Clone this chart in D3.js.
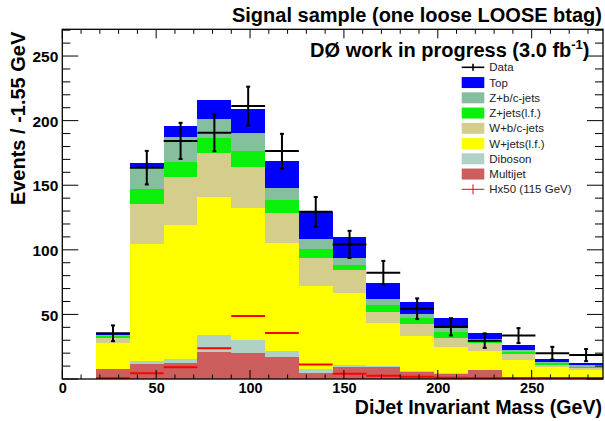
<!DOCTYPE html>
<html>
<head>
<meta charset="utf-8">
<script src="https://cdn.jsdelivr.net/npm/d3@7"></script>
<style>
  html, body { margin: 0; padding: 0; background: #fff; }
  svg { display: block; font-family: "Liberation Sans", Arial, Helvetica, sans-serif; }
</style>
</head>
<body>
<div id="chart"></div>
<script>
// Bins of 18 GeV, lower edges
const binLow = [0, 18, 36, 54, 72, 90, 108, 126, 144, 162, 180, 198, 216, 234, 252, 270];
const binWidth = 18;

// Backgrounds, per bin (stacked bottom -> top)
const multijet = [0, 7.7, 11.6, 12.1, 21.0, 20.2, 16.8, 5.0, 9.5, 9.0, 5.7, 3.9, 7.0, 0.3, 0.3, 0.3];
const diboson  = [0, 0.3, 2.2, 3.1, 13.0, 10.3, 4.9, 3.0, 1.3, 1.0, 0.7, 0.5, 0.2, 0.2, 0.2, 0.2];
const wjetsLF  = [0, 19.5, 90.7, 103.9, 106.6, 101.9, 83.3, 64.0, 56.0, 33.3, 26.6, 20.2, 14.6, 14.2, 9.0, 6.5];
const wbcJets  = [0, 4.3, 31.3, 37.3, 34.4, 31.9, 23.7, 22.0, 17.6, 8.8, 9.6, 7.5, 5.8, 4.3, 1.5, 1.3];
const zjetsLF  = [0, 1.5, 11.6, 11.4, 11.7, 12.1, 9.8, 7.0, 3.8, 5.5, 4.4, 4.6, 1.6, 2.0, 1.3, 1.2];
const zbcJets  = [0, 0.9, 16.6, 19.2, 14.6, 14.2, 9.2, 7.7, 5.7, 4.1, 3.3, 3.1, 1.5, 1.4, 1.0, 1.1];
const topQuark = [0, 1.4, 3.0, 8.7, 14.5, 18.2, 20.8, 20.3, 16.2, 12.9, 9.5, 7.4, 4.7, 3.8, 2.1, 2.1];

// Data with errors, and signal (x50)
const dataVals = [null, 35.4, 163.6, 184.3, 190.6, 211.3, 176.4, 129.4, 104.2, 82.2, 54.4, 40.4, 29.7, 33.6, 20.0, 18.5];
const dataErrs = [null, 6.1, 13.0, 14.0, 14.3, 15.0, 13.4, 11.5, 10.5, 9.2, 8.0, 6.7, 5.6, 5.8, 4.9, 4.7];
const hx50     = [0, 0.5, 4.4, 9.0, 23.8, 48.7, 35.7, 11.3, 4.1, 2.5, 1.8, 1.0, 0.8, 0.4, 0.3, 0.3];

const stackKeys   = ["Multijet", "Diboson", "W+jets(l.f.)", "W+b/c-jets", "Z+jets(l.f.)", "Z+b/c-jets", "Top"];
const stackSeries = [multijet, diboson, wjetsLF, wbcJets, zjetsLF, zbcJets, topQuark];
const stackColors = ["#cc5e5e", "#b0d2c6", "#ffff00", "#d4cd8c", "#0af00a", "#86bf9e", "#0000ff"];
const legendOrder = ["Top", "Z+b/c-jets", "Z+jets(l.f.)", "W+b/c-jets", "W+jets(l.f.)", "Diboson", "Multijet"];

const W = 605, H = 421;
const frame = { left: 62.3, right: 603, top: 29.3, bottom: 379 };

const svg = d3.select("#chart").append("svg")
  .attr("width", W).attr("height", H)
  .attr("viewBox", `0 0 ${W} ${H}`);

const x = d3.scaleLinear().domain([0, 288]).range([frame.left, frame.right]);
const y = d3.scaleLinear().domain([0, 270.7]).range([frame.bottom, frame.top]);

// stacked histogram
const rows = binLow.map((lo, i) => {
  const r = { lo };
  stackKeys.forEach((k, j) => { r[k] = stackSeries[j][i]; });
  return r;
});
const stacked = d3.stack().keys(stackKeys)(rows);
const color = d3.scaleOrdinal().domain(stackKeys).range(stackColors);

const gStack = svg.append("g").attr("shape-rendering", "crispEdges");
gStack.selectAll("g.layer")
  .data(stacked)
  .join("g")
  .attr("class", "layer")
  .attr("fill", (d) => color(d.key))
  .selectAll("rect")
  .data((d) => d.filter((p) => p[1] - p[0] > 0))
  .join("rect")
  .attr("x", (p) => x(p.data.lo))
  .attr("width", (p) => x(p.data.lo + binWidth) - x(p.data.lo))
  .attr("y", (p) => y(p[1]))
  .attr("height", (p) => y(p[0]) - y(p[1]));

// Hx50 signal: red horizontal bars
const gSig = svg.append("g").attr("stroke", "#ff0000").attr("stroke-width", 2);
gSig.selectAll("line")
  .data(binLow.map((lo, i) => ({ lo, v: hx50[i] })).filter((d) => d.v > 0))
  .join("line")
  .attr("x1", (d) => x(d.lo)).attr("x2", (d) => x(d.lo + binWidth))
  .attr("y1", (d) => Math.min(y(d.v), frame.bottom - 1))
  .attr("y2", (d) => Math.min(y(d.v), frame.bottom - 1));

// axes (ticks inward, on all four sides)
function drawTicks(scale, step, minorStep, side, majorLen, minorLen) {
  const d1 = scale.domain()[1];
  const g = svg.append("g").attr("stroke", "#000").attr("stroke-width", 1);
  d3.range(0, d1 + 1e-6, minorStep).forEach((v) => {
    const isMajor = Math.abs(v / step - Math.round(v / step)) < 1e-6;
    const len = isMajor ? majorLen : minorLen;
    const p = scale(v);
    if (side === "left") g.append("line").attr("x1", frame.left).attr("x2", frame.left + len).attr("y1", p).attr("y2", p);
    if (side === "right") g.append("line").attr("x1", frame.right).attr("x2", frame.right - len).attr("y1", p).attr("y2", p);
    if (side === "bottom") g.append("line").attr("y1", frame.bottom).attr("y2", frame.bottom - len).attr("x1", p).attr("x2", p);
    if (side === "top") g.append("line").attr("y1", frame.top).attr("y2", frame.top + len).attr("x1", p).attr("x2", p);
  });
}
drawTicks(y, 50, 10, "left", 16, 8);
drawTicks(y, 50, 10, "right", 16, 8);
drawTicks(x, 50, 10, "bottom", 9, 4.5);
drawTicks(x, 50, 10, "top", 9, 4.5);

svg.append("rect")
  .attr("x", frame.left).attr("y", frame.top)
  .attr("width", frame.right - frame.left).attr("height", frame.bottom - frame.top)
  .attr("fill", "none").attr("stroke", "#000").attr("stroke-width", 1.3);

// tick labels via d3 axes (tick lines hidden, drawn above)
const xAxis = svg.append("g")
  .attr("transform", `translate(0,${frame.bottom})`)
  .call(d3.axisBottom(x).tickValues([0, 50, 100, 150, 200, 250]).tickSize(0));
const yAxis = svg.append("g")
  .attr("transform", `translate(${frame.left},0)`)
  .call(d3.axisLeft(y).tickValues([50, 100, 150, 200, 250]).tickSize(0).tickPadding(4));
[xAxis, yAxis].forEach((a) => {
  a.select(".domain").remove();
  a.selectAll("text").attr("font-family", null).attr("font-weight", "bold").attr("fill", "#000");
});
xAxis.attr("font-size", null).selectAll("text").attr("font-size", 14.5).attr("dy", 0).attr("y", 13.8);
yAxis.attr("font-size", null).selectAll("text").attr("font-size", 15.5).attr("dy", "0.36em");

// data points
const gData = svg.append("g").attr("stroke", "#000").attr("stroke-width", 2);
const pts = binLow.map((lo, i) => ({ lo, v: dataVals[i], e: dataErrs[i] })).filter((d) => d.v != null);
gData.selectAll("line.h").data(pts).join("line").attr("class", "h")
  .attr("x1", (d) => x(d.lo)).attr("x2", (d) => x(d.lo + binWidth))
  .attr("y1", (d) => y(d.v)).attr("y2", (d) => y(d.v));
gData.selectAll("line.v").data(pts).join("line").attr("class", "v")
  .attr("x1", (d) => x(d.lo + binWidth / 2)).attr("x2", (d) => x(d.lo + binWidth / 2))
  .attr("y1", (d) => y(d.v + d.e)).attr("y2", (d) => y(d.v - d.e));
["up", "dn"].forEach((s) => {
  gData.selectAll("line.c" + s).data(pts).join("line").attr("class", "c" + s)
    .attr("x1", (d) => x(d.lo + binWidth / 2) - 2).attr("x2", (d) => x(d.lo + binWidth / 2) + 2)
    .attr("y1", (d) => y(s === "up" ? d.v + d.e : d.v - d.e))
    .attr("y2", (d) => y(s === "up" ? d.v + d.e : d.v - d.e));
});

// titles
svg.append("text")
  .attr("x", 602).attr("y", 21.7)
  .attr("text-anchor", "end").attr("font-size", 20).attr("font-weight", "bold")
  .text("Signal sample (one loose LOOSE btag)");

const dzero = svg.append("text")
  .attr("x", 589.5).attr("y", 57.3)
  .attr("text-anchor", "end").attr("font-size", 20).attr("font-weight", "bold");
dzero.append("tspan").text("DØ work in progress (3.0 fb");
dzero.append("tspan").attr("font-size", 13).attr("dy", -8).text("-1");
dzero.append("tspan").attr("dy", 8).text(")");

svg.append("text")
  .attr("x", 602).attr("y", 413.5)
  .attr("text-anchor", "end").attr("font-size", 19.6).attr("font-weight", "bold")
  .text("DiJet Invariant Mass (GeV)");

svg.append("text")
  .attr("transform", "translate(25,31.7) rotate(-90)")
  .attr("text-anchor", "end").attr("font-size", 20).attr("font-weight", "bold")
  .text("Events / -1.55 GeV");

// legend
const leg = svg.append("g").attr("font-size", 11.5).attr("fill", "#222");
const legX = 461.7, legW = 22.6, legY0 = 67.3, legDy = 15.25;
const legItems = [{ kind: "data", label: "Data" }]
  .concat(legendOrder.map((k) => ({ kind: "box", label: k })))
  .concat([{ kind: "sig", label: "Hx50 (115 GeV)" }]);
legItems.forEach((it, i) => {
  const cy = legY0 + i * legDy;
  if (it.kind === "box") {
    leg.append("rect").attr("x", legX).attr("y", cy - 5.5).attr("width", legW).attr("height", 11)
      .attr("fill", color(it.label));
  } else {
    const c = it.kind === "data" ? "#000" : "#ff0000";
    const sw = it.kind === "data" ? 1.6 : 1;
    const vh = it.kind === "data" ? 3.5 : 5;
    leg.append("line").attr("x1", legX).attr("x2", legX + legW).attr("y1", cy).attr("y2", cy)
      .attr("stroke", c).attr("stroke-width", sw);
    leg.append("line").attr("x1", legX + legW / 2).attr("x2", legX + legW / 2).attr("y1", cy - vh).attr("y2", cy + vh)
      .attr("stroke", c).attr("stroke-width", sw);
  }
  leg.append("text").attr("x", 489.3).attr("y", cy).attr("dy", "0.35em").text(it.label);
});
</script>
</body>
</html>
